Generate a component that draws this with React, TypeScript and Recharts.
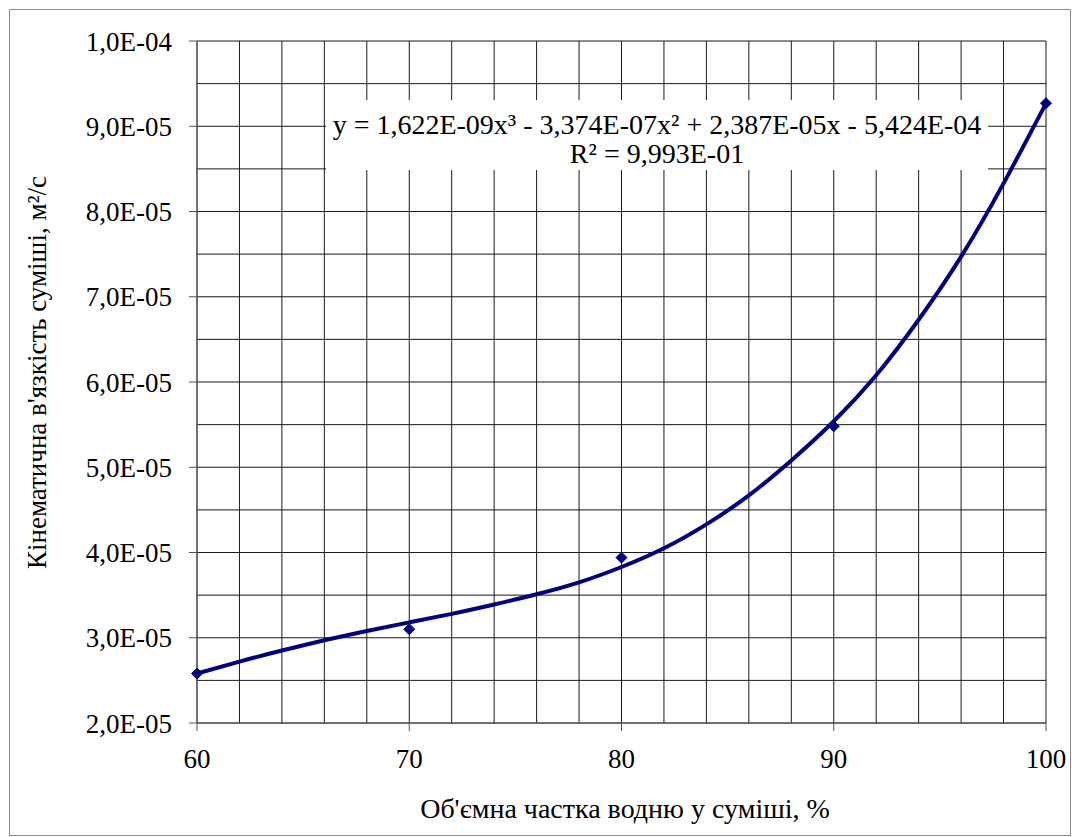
import { ComposedChart, Line, XAxis, YAxis, CartesianGrid } from 'recharts'

// trend line readings (every 2 %), m²/s
const trendX = [60, 62, 64, 66, 68, 70, 72, 74, 76, 78, 80, 82, 84, 86, 88, 90, 92, 94, 96, 98, 100]
const trendY = [
  2.58e-5, 2.72e-5, 2.85e-5, 2.97e-5, 3.08e-5, 3.18e-5, 3.28e-5, 3.39e-5, 3.51e-5, 3.65e-5,
  3.83e-5, 4.05e-5, 4.33e-5, 4.67e-5, 5.08e-5, 5.54e-5, 6.08e-5, 6.73e-5, 7.47e-5, 8.33e-5, 9.27e-5,
]

// measured points
const measuredX = [60, 70, 80, 90, 100]
const measuredY = [2.58e-5, 3.1e-5, 3.94e-5, 5.48e-5, 9.27e-5]

const xTicks = [60, 70, 80, 90, 100]
const yTicks = [2e-5, 3e-5, 4e-5, 5e-5, 6e-5, 7e-5, 8e-5, 9e-5, 1e-4]

const xGrid = [60, 62, 64, 66, 68, 70, 72, 74, 76, 78, 80, 82, 84, 86, 88, 90, 92, 94, 96, 98, 100]
const yGrid = [
  2e-5, 2.5e-5, 3e-5, 3.5e-5, 4e-5, 4.5e-5, 5e-5, 5.5e-5, 6e-5, 6.5e-5, 7e-5, 7.5e-5, 8e-5, 8.5e-5,
  9e-5, 9.5e-5, 1e-4,
]

const data = trendX.map((x, i) => {
  const j = measuredX.indexOf(x)
  return { x, trend: trendY[i], measured: j >= 0 ? measuredY[j] : null }
})

const FONT = "'Liberation Serif', 'DejaVu Serif', serif"
const NAVY = '#000080'

const fmtSci = (v: number) => {
  const [m, e] = v.toExponential(1).split('e')
  const n = parseInt(e, 10)
  return `${m.replace('.', ',')}E${n < 0 ? '-' : '+'}${String(Math.abs(n)).padStart(2, '0')}`
}

const Diamond = (props: any) => {
  const { cx, cy, payload } = props
  if (payload == null || payload.measured == null || cx == null || cy == null) return <g key={props.key} />
  const r = 5.5
  return (
    <path
      key={props.key}
      d={`M${cx},${cy - r}L${cx + r},${cy}L${cx},${cy + r}L${cx - r},${cy}Z`}
      fill={NAVY}
      stroke={NAVY}
    />
  )
}

export default function App() {
  return (
    <div style={{ position: 'fixed', left: 0, top: 0, width: 1072, height: 837, background: '#fff', fontFamily: FONT }}>
      <div style={{ position: 'absolute', left: 9, top: 9, width: 1062, height: 827, border: '1px solid #8c8c8c', boxSizing: 'border-box' }} />
      <ComposedChart
        width={1072}
        height={837}
        data={data}
        margin={{ top: 41, right: 26, bottom: 64, left: 90 }}
        style={{ position: 'absolute', left: 0, top: 0, fontFamily: FONT }}
      >
        <CartesianGrid
          stroke="#1a1a1a"
          strokeWidth={1}
          horizontalValues={yGrid}
          verticalValues={xGrid}
        />
        <XAxis
          dataKey="x"
          type="number"
          domain={[60, 100]}
          ticks={xTicks}
          height={50}
          tickSize={8}
          tickMargin={18}
          stroke="#555"
          tick={{ fontSize: 27, fill: '#000', fontFamily: FONT }}
        />
        <YAxis
          type="number"
          domain={[2e-5, 1e-4]}
          ticks={yTicks}
          width={107}
          tickSize={8}
          tickMargin={17}
          stroke="#555"
          tickFormatter={fmtSci}
          tick={{ fontSize: 27, fill: '#000', fontFamily: FONT }}
        />
        <Line
          dataKey="trend"
          type="natural"
          stroke={NAVY}
          strokeWidth={4}
          dot={false}
          activeDot={false}
          isAnimationActive={false}
        />
        <Line
          dataKey="measured"
          stroke="none"
          dot={Diamond}
          activeDot={false}
          isAnimationActive={false}
        />
      </ComposedChart>
      <div
        style={{
          position: 'absolute',
          left: 326,
          top: 100,
          width: 662,
          height: 70,
          background: '#fff',
          textAlign: 'center',
          fontSize: 28,
          lineHeight: '29px',
          paddingTop: 10,
          boxSizing: 'border-box',
          color: '#000',
          whiteSpace: 'nowrap',
        }}
      >
        <div>y = 1,622E-09x³ - 3,374E-07x² + 2,387E-05x - 5,424E-04</div>
        <div>R² = 9,993E-01</div>
      </div>
      <div
        style={{
          position: 'absolute',
          left: 37 - 250,
          top: 372 - 15,
          width: 500,
          height: 31,
          lineHeight: '31px',
          textAlign: 'center',
          fontSize: 27,
          transform: 'rotate(-90deg)',
          whiteSpace: 'nowrap',
        }}
      >
        Кінематична в'язкість суміші, м²/с
      </div>
      <div
        style={{
          position: 'absolute',
          left: 625 - 300,
          top: 793,
          width: 600,
          lineHeight: '31px',
          textAlign: 'center',
          fontSize: 28,
          whiteSpace: 'nowrap',
        }}
      >
        Об'ємна частка водню у суміші, %
      </div>
    </div>
  )
}
